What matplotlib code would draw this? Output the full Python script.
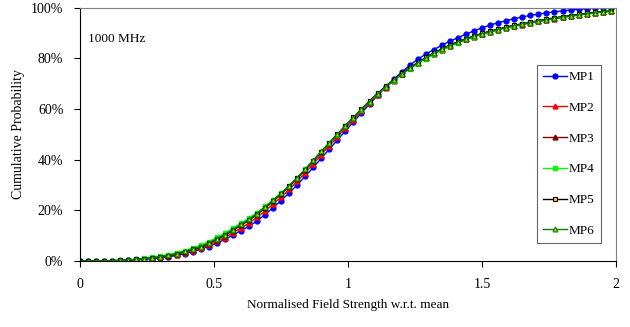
import numpy as np
import matplotlib
matplotlib.use("Agg")
import matplotlib.pyplot as plt
from matplotlib.ticker import FuncFormatter

# normalised field strength (x) - markers every 0.03
x = np.round(np.arange(67) * 0.03, 2)

# cumulative probability in %
mp1 = [0, 0, 0, 0, 0.0, 0.1, 0.2, 0.4, 0.6, 0.9, 1.2, 1.6, 2.2, 2.9, 3.7, 4.6, 5.7, 7.0, 8.5, 10.2,
       12.0, 13.6, 15.8, 18.3, 21.0, 23.8, 26.8, 30.0, 33.4, 36.9, 40.5, 44.1, 47.7, 51.3, 54.9, 58.4,
       61.9, 65.3, 68.5, 71.6, 74.5, 77.2, 79.6, 81.6, 83.4, 85.1, 86.7, 88.1, 89.5, 90.8, 92.0, 93.1,
       94.0, 94.8, 95.6, 96.3, 96.9, 97.4, 97.9, 98.3, 98.7, 99.0, 99.3, 99.5, 99.7, 99.8, 99.9]
mp2 = [0, 0, 0, 0, 0.1, 0.2, 0.3, 0.5, 0.8, 1.1, 1.4, 1.9, 2.5, 3.3, 4.1, 5.0, 6.2, 7.7, 9.2, 11.1,
       13.0, 14.9, 17.2, 19.7, 22.4, 25.2, 28.2, 31.4, 34.8, 38.3, 41.9, 45.4, 48.9, 52.4, 55.8, 59.1,
       62.4, 65.5, 68.4, 71.1, 73.7, 76.0, 78.1, 80.1, 81.9, 83.6, 85.1, 86.4, 87.6, 88.7, 89.7, 90.6,
       91.4, 92.2, 92.9, 93.5, 94.1, 94.7, 95.3, 95.8, 96.3, 96.7, 97.2, 97.6, 98.0, 98.3, 98.6]
mp3 = [0, 0, 0, 0, 0.1, 0.2, 0.4, 0.6, 0.9, 1.2, 1.6, 2.1, 2.8, 3.6, 4.5, 5.4, 6.8, 8.4, 10.0, 12.0,
       14.0, 16.0, 18.3, 20.8, 23.5, 26.3, 29.3, 32.5, 35.8, 39.3, 42.8, 46.3, 49.8, 53.2, 56.5, 59.7,
       62.9, 65.9, 68.7, 71.3, 73.8, 76.0, 78.1, 80.0, 81.8, 83.4, 84.9, 86.2, 87.4, 88.5, 89.5, 90.4,
       91.2, 92.0, 92.7, 93.3, 93.9, 94.5, 95.1, 95.6, 96.1, 96.6, 97.0, 97.5, 97.9, 98.2, 98.5]
mp4 = [0, 0, 0, 0.1, 0.1, 0.3, 0.5, 0.7, 1.0, 1.4, 1.9, 2.5, 3.2, 4.1, 5.1, 6.2, 7.6, 9.3, 11.0, 12.9,
       14.9, 16.9, 19.1, 21.5, 24.1, 26.8, 29.7, 32.8, 36.1, 39.6, 43.0, 46.4, 49.8, 53.2, 56.5, 59.6,
       62.8, 65.8, 68.6, 71.2, 73.6, 75.8, 77.9, 79.8, 81.6, 83.2, 84.7, 86.1, 87.4, 88.5, 89.5, 90.4,
       91.3, 92.1, 92.8, 93.5, 94.1, 94.7, 95.3, 95.8, 96.3, 96.7, 97.1, 97.5, 97.9, 98.2, 98.5]
mp5 = [0, 0, 0, 0, 0.1, 0.2, 0.4, 0.6, 0.9, 1.2, 1.6, 2.1, 2.8, 3.7, 4.6, 5.5, 6.9, 8.6, 10.2, 12.2,
       14.2, 16.2, 18.5, 21.0, 23.7, 26.5, 29.5, 32.7, 36.0, 39.6, 43.1, 46.6, 50.0, 53.4, 56.7, 59.9,
       63.1, 66.1, 68.9, 71.5, 74.0, 76.2, 78.3, 80.3, 82.1, 83.7, 85.2, 86.5, 87.7, 88.8, 89.8, 90.7,
       91.5, 92.3, 93.0, 93.6, 94.2, 94.8, 95.4, 95.9, 96.4, 96.8, 97.3, 97.7, 98.1, 98.4, 98.7]
mp6 = [0, 0, 0, 0, 0.1, 0.2, 0.4, 0.6, 0.9, 1.3, 1.7, 2.2, 2.9, 3.8, 4.7, 5.7, 7.1, 8.8, 10.4, 12.4,
       14.4, 16.4, 18.7, 21.2, 23.9, 26.7, 29.7, 32.9, 36.2, 39.7, 43.2, 46.6, 50.0, 53.3, 56.6, 59.8,
       62.9, 65.9, 68.7, 71.3, 73.8, 76.0, 78.1, 80.1, 81.9, 83.5, 85.0, 86.3, 87.5, 88.6, 89.6, 90.5,
       91.3, 92.1, 92.8, 93.4, 94.0, 94.6, 95.2, 95.7, 96.2, 96.6, 97.1, 97.5, 97.9, 98.3, 98.6]

labels = ["MP1", "MP2", "MP3", "MP4", "MP5", "MP6"]

plt.rcParams['font.family'] = ['Liberation Serif', 'DejaVu Serif']

fig = plt.figure(figsize=(6.3, 3.27), dpi=100)
ax = fig.add_axes([0.127, 0.202, 0.851, 0.775])

ms = 3.5
ax.plot(x, mp1, color='#0000FF', lw=1, marker='o', ms=ms, label=labels[0])
ax.plot(x, mp2, color='#FF0000', lw=1, marker='^', ms=ms, label=labels[1])
ax.plot(x, mp3, color='#800000', lw=1, marker='^', ms=ms, label=labels[2])
ax.plot(x, mp4, color='#00FF00', lw=1, marker='s', ms=ms, label=labels[3])
ax.plot(x, mp5, color='black', lw=1, marker='s', ms=ms, mfc='#FFCC00', mec='black', mew=0.8, label=labels[4])
ax.plot(x, mp6, color='#008000', lw=1, marker='^', ms=ms, mfc='#CCCC00', mec='#008000', mew=0.8, label=labels[5])

ax.set_xlim(0, 2)
ax.set_ylim(0, 100)
ax.set_xticks([0, 0.5, 1, 1.5, 2])
ax.set_xticklabels(["0", "0.5", "1", "1.5", "2"])
ax.set_yticks(range(0, 101, 20))
ax.yaxis.set_major_formatter(FuncFormatter(lambda v, p: f"{v:.0f}%"))
ax.tick_params(direction='out', length=4, width=0.8, labelsize=10, colors='black', pad=8)

for s in ['left', 'bottom']:
    ax.spines[s].set_color('black')
for s in ['top', 'right']:
    ax.spines[s].set_color('#808080')

ax.set_xlabel("Normalised Field Strength w.r.t. mean", fontsize=9.5, labelpad=6)
ax.set_ylabel("Cumulative Probability", fontsize=10, labelpad=4)

ax.text(0.014, 0.876, "1000 MHz", transform=ax.transAxes, fontsize=9.5, va='center', ha='left')

leg = ax.legend(loc='center', bbox_to_anchor=(0.912, 0.422), fontsize=9.5, frameon=True,
                fancybox=False, edgecolor='#404040', handlelength=1.8, handletextpad=0.15,
                labelspacing=1.4, borderpad=0.5, borderaxespad=0)
leg.get_frame().set_linewidth(0.8)

fig.savefig("out.png", dpi=100)
